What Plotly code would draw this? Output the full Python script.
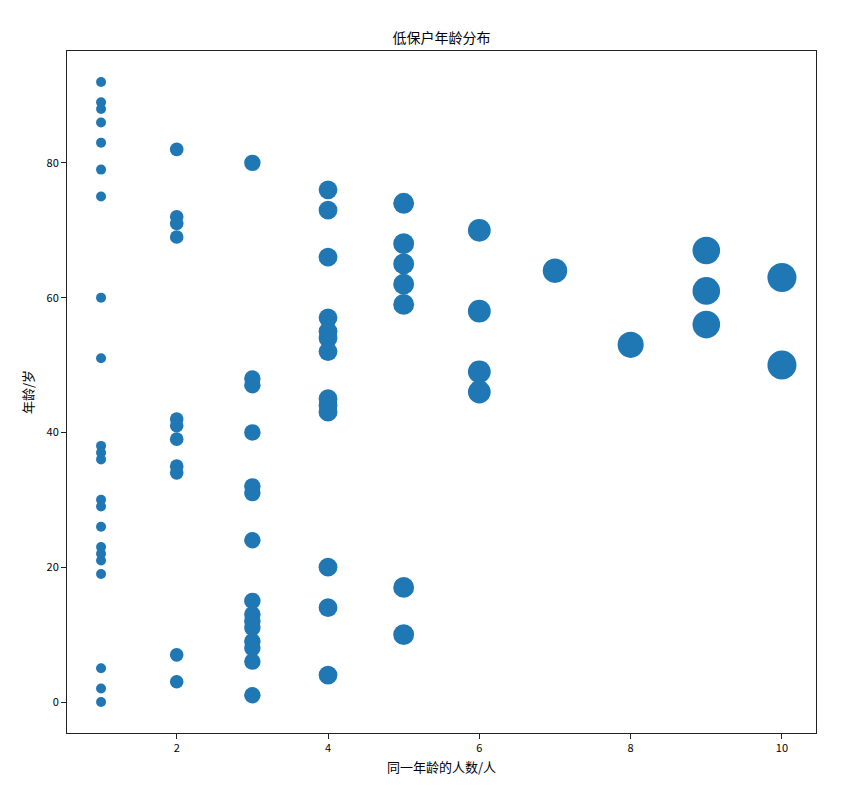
import numpy as np
import plotly.graph_objects as go

# ages grouped by how many people share that age
counts = [1, 2, 3, 4, 5, 6, 7, 8, 9, 10]
ages_by_count = {
    1: [92, 89, 88, 86, 83, 79, 75, 60, 51, 38, 37, 36, 30, 29, 26, 23, 22, 21, 19, 5, 2, 0],
    2: [82, 72, 71, 69, 42, 41, 39, 35, 34, 7, 3],
    3: [80, 48, 47, 40, 32, 31, 24, 15, 13, 12, 11, 9, 8, 6, 1],
    4: [76, 73, 66, 57, 55, 54, 52, 45, 44, 43, 20, 14, 4],
    5: [74, 68, 65, 62, 59, 17, 10],
    6: [70, 58, 49, 46],
    7: [64],
    8: [53],
    9: [67, 61, 56],
    10: [63, 50],
}
x_ticks = [2, 4, 6, 8, 10]
y_ticks = [0, 20, 40, 60, 80]

xs, ys = [], []
for c in counts:
    for a in ages_by_count[c]:
        xs.append(c)
        ys.append(a)
xs = np.array(xs)
sizes = 8.8 * np.sqrt(xs) + 1.2

fig = go.Figure(go.Scatter(
    x=xs, y=ys, mode="markers",
    marker=dict(size=sizes, color="#1f77b4", opacity=1, line=dict(width=0)),
))

font_family = "Noto Sans CJK SC, DejaVu Sans, sans-serif"
axis_common = dict(
    showgrid=False, zeroline=False, showline=True, linecolor="#222",
    linewidth=1, mirror=True, ticks="outside", ticklen=5, tickwidth=1,
    tickcolor="#222", tickfont=dict(size=11, color="#000", family=font_family),
)
fig.update_layout(
    width=865, height=803,
    margin=dict(l=59, r=57, t=43, b=78),
    paper_bgcolor="white", plot_bgcolor="white",
    showlegend=False,
    font=dict(family=font_family, color="#000"),
    title=dict(text="低保户年龄分布", x=0.5, xref="paper", y=1, yref="paper",
               yanchor="bottom", pad=dict(b=8), font=dict(size=14, color="#000")),
    xaxis=dict(range=[0.55, 10.45], tickvals=x_ticks,
               title=dict(text="同一年龄的人数/人", font=dict(size=13), standoff=8),
               **axis_common),
    yaxis=dict(range=[-4.6, 96.6], tickvals=y_ticks,
               title=dict(text="年龄/岁", font=dict(size=13), standoff=10),
               **axis_common),
)
fig.write_html("out.html")
